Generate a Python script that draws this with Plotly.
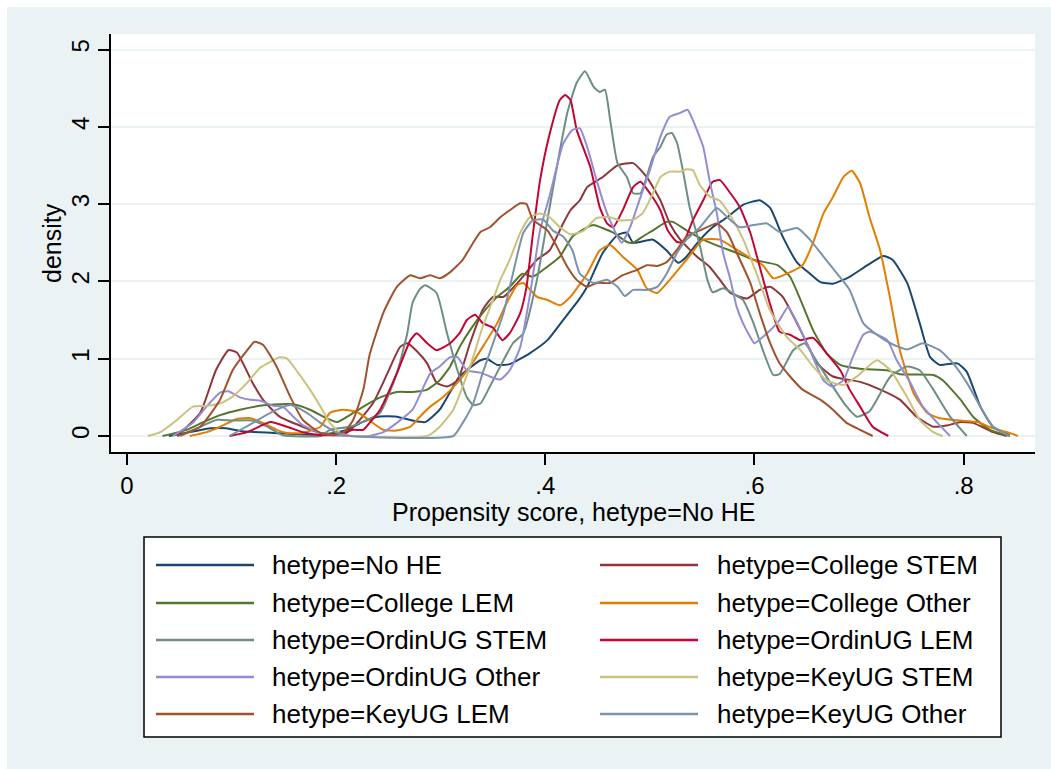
import plotly.graph_objects as go

# ---------------- data (x = propensity score, y = kernel density) ----------------
SERIES_NAMES = [
    "hetype=No HE", "hetype=College STEM", "hetype=College LEM", "hetype=College Other",
    "hetype=OrdinUG STEM", "hetype=OrdinUG LEM", "hetype=OrdinUG Other", "hetype=KeyUG STEM",
    "hetype=KeyUG LEM", "hetype=KeyUG Other",
]
SERIES_COLORS = ["#1a476f", "#90353b", "#55752f", "#e37e00", "#6e8e84",
                 "#c10534", "#938dd2", "#cac27e", "#a0522d", "#7b92a8"]

NO_HE = [(0.040,0),(0.060,0.05),(0.080,0.10),(0.095,0.10),(0.110,0.06),(0.140,0.04),(0.170,0.02),(0.190,0.02),(0.210,0.08),(0.225,0.18),(0.240,0.25),(0.258,0.25),(0.273,0.20),(0.285,0.18),(0.299,0.34),(0.318,0.77),(0.338,0.98),(0.344,1.00),(0.354,0.92),(0.366,0.93),(0.385,1.07),(0.402,1.24),(0.417,1.50),(0.433,1.78),(0.440,1.93),(0.455,2.37),(0.469,2.60),(0.478,2.63),(0.484,2.50),(0.503,2.54),(0.516,2.40),(0.527,2.24),(0.535,2.32),(0.548,2.54),(0.560,2.70),(0.574,2.83),(0.589,2.99),(0.605,3.05),(0.615,2.95),(0.627,2.58),(0.641,2.24),(0.653,2.10),(0.663,1.99),(0.675,1.97),(0.691,2.06),(0.708,2.21),(0.723,2.33),(0.732,2.28),(0.746,1.98),(0.758,1.46),(0.768,1.02),(0.777,0.92),(0.794,0.94),(0.803,0.83),(0.816,0.38),(0.828,0.12),(0.844,0.01)]

COLLEGE_STEM = [(0.048,0),(0.070,0.30),(0.085,0.85),(0.097,1.11),(0.105,1.08),(0.120,0.69),(0.130,0.47),(0.146,0.25),(0.168,0.12),(0.185,0.04),(0.210,0.04),(0.235,0.42),(0.249,0.81),(0.261,1.15),(0.268,1.20),(0.277,1.10),(0.287,0.94),(0.296,0.69),(0.306,0.64),(0.316,0.72),(0.328,1.20),(0.340,1.63),(0.350,1.80),(0.360,1.80),(0.376,2.02),(0.392,2.28),(0.404,2.40),(0.417,2.75),(0.424,2.92),(0.433,3.05),(0.440,3.22),(0.455,3.35),(0.469,3.50),(0.484,3.53),(0.497,3.35),(0.510,3.05),(0.519,2.75),(0.529,2.54),(0.545,2.32),(0.557,2.19),(0.567,2.02),(0.577,1.85),(0.593,1.78),(0.605,1.89),(0.615,1.93),(0.627,1.80),(0.644,1.37),(0.660,0.94),(0.675,0.77),(0.701,0.70),(0.717,0.62),(0.739,0.47),(0.755,0.25),(0.771,0.12),(0.785,0.14),(0.797,0.18),(0.809,0.17),(0.828,0.05),(0.841,0)]

COLLEGE_LEM = [(0.034,0),(0.057,0.08),(0.073,0.18),(0.089,0.27),(0.108,0.34),(0.127,0.39),(0.146,0.41),(0.159,0.41),(0.175,0.34),(0.191,0.23),(0.201,0.18),(0.213,0.27),(0.226,0.38),(0.242,0.50),(0.258,0.57),(0.273,0.57),(0.287,0.60),(0.299,0.72),(0.309,0.90),(0.318,1.15),(0.328,1.37),(0.340,1.59),(0.354,1.80),(0.366,1.93),(0.378,2.10),(0.388,2.06),(0.402,2.19),(0.414,2.32),(0.426,2.58),(0.440,2.70),(0.446,2.73),(0.465,2.63),(0.478,2.51),(0.484,2.50),(0.493,2.58),(0.503,2.66),(0.516,2.77),(0.522,2.77),(0.535,2.66),(0.551,2.54),(0.567,2.45),(0.583,2.37),(0.599,2.28),(0.622,2.21),(0.634,2.06),(0.644,1.76),(0.656,1.37),(0.669,1.07),(0.682,0.92),(0.701,0.87),(0.727,0.85),(0.739,0.80),(0.771,0.79),(0.780,0.72),(0.797,0.47),(0.809,0.25),(0.825,0.08),(0.844,0)]

COLLEGE_OTHER = [(0.060,0),(0.076,0.05),(0.089,0.12),(0.105,0.22),(0.118,0.23),(0.130,0.17),(0.143,0.08),(0.153,0.04),(0.168,0.04),(0.185,0.12),(0.194,0.30),(0.207,0.34),(0.220,0.31),(0.232,0.20),(0.245,0.08),(0.258,0.07),(0.271,0.12),(0.280,0.25),(0.290,0.38),(0.302,0.50),(0.316,0.69),(0.328,0.90),(0.340,1.15),(0.354,1.46),(0.363,1.72),(0.373,1.95),(0.379,1.98),(0.392,1.80),(0.402,1.76),(0.414,1.69),(0.424,1.80),(0.440,2.10),(0.452,2.40),(0.462,2.47),(0.474,2.32),(0.488,2.15),(0.497,1.91),(0.507,1.85),(0.519,2.02),(0.535,2.28),(0.551,2.54),(0.567,2.54),(0.583,2.41),(0.599,2.28),(0.608,2.21),(0.618,2.04),(0.631,2.10),(0.646,2.21),(0.656,2.50),(0.666,2.88),(0.675,3.09),(0.685,3.35),(0.693,3.43),(0.701,3.27),(0.710,2.83),(0.720,2.41),(0.730,1.76),(0.739,1.11),(0.752,0.56),(0.765,0.30),(0.777,0.23),(0.797,0.20),(0.813,0.18),(0.828,0.10),(0.844,0.04),(0.852,0)]

ORDINUG_STEM = [(0.051,0),(0.067,0.10),(0.086,0.21),(0.101,0.20),(0.120,0.20),(0.134,0.12),(0.149,0.01),(0.185,0),(0.194,0.08),(0.213,0.12),(0.228,0.20),(0.242,0.30),(0.258,0.81),(0.268,1.33),(0.273,1.72),(0.280,1.90),(0.285,1.95),(0.296,1.85),(0.306,1.33),(0.316,0.85),(0.325,0.50),(0.331,0.40),(0.338,0.42),(0.347,0.64),(0.360,0.98),(0.369,1.20),(0.379,1.33),(0.392,2.02),(0.404,2.95),(0.414,3.70),(0.421,4.18),(0.430,4.57),(0.438,4.72),(0.446,4.52),(0.452,4.45),(0.457,4.48),(0.462,4.09),(0.469,3.53),(0.478,3.35),(0.484,3.14),(0.491,3.14),(0.503,3.61),(0.510,3.74),(0.516,3.90),(0.521,3.92),(0.526,3.79),(0.532,3.40),(0.538,2.96),(0.548,2.45),(0.555,2.02),(0.560,1.86),(0.570,1.91),(0.579,1.85),(0.589,1.76),(0.599,1.46),(0.608,1.11),(0.618,0.79),(0.624,0.80),(0.637,1.11),(0.648,1.20),(0.658,1.00),(0.672,0.70),(0.687,0.40),(0.698,0.25),(0.710,0.32),(0.730,0.77),(0.746,0.90),(0.758,0.85),(0.771,0.60),(0.787,0.25),(0.803,0)]

ORDINUG_LEM = [(0.098,0),(0.115,0.05),(0.137,0.18),(0.153,0.12),(0.168,0.05),(0.185,0.01),(0.204,0.02),(0.216,0.08),(0.226,0.08),(0.232,0.17),(0.242,0.34),(0.258,0.81),(0.271,1.24),(0.277,1.33),(0.287,1.20),(0.296,1.11),(0.309,1.20),(0.318,1.33),(0.325,1.50),(0.333,1.57),(0.340,1.46),(0.350,1.40),(0.359,1.24),(0.366,1.33),(0.376,1.59),(0.382,1.93),(0.388,2.60),(0.395,3.31),(0.404,3.90),(0.414,4.35),(0.419,4.41),(0.424,4.35),(0.430,3.96),(0.443,3.48),(0.452,2.96),(0.459,2.75),(0.465,2.70),(0.474,2.92),(0.484,3.22),(0.491,3.29),(0.500,3.14),(0.510,2.92),(0.517,2.66),(0.526,2.51),(0.532,2.51),(0.541,2.79),(0.551,3.05),(0.560,3.29),(0.567,3.31),(0.577,3.14),(0.586,2.96),(0.596,2.63),(0.605,2.19),(0.615,1.70),(0.624,1.35),(0.634,1.31),(0.644,1.24),(0.656,1.27),(0.669,1.07),(0.682,0.85),(0.691,0.60),(0.701,0.38),(0.713,0.12),(0.728,0)]

ORDINUG_OTHER = [(0.044,0),(0.063,0.17),(0.076,0.38),(0.089,0.56),(0.097,0.58),(0.108,0.50),(0.118,0.47),(0.127,0.46),(0.140,0.39),(0.149,0.38),(0.159,0.25),(0.168,0.14),(0.185,0.04),(0.197,0.01),(0.213,0),(0.232,0),(0.245,0.05),(0.258,0.17),(0.273,0.34),(0.290,0.81),(0.299,0.90),(0.309,1.02),(0.316,1.02),(0.325,0.85),(0.338,0.82),(0.347,0.77),(0.357,0.73),(0.366,0.85),(0.376,1.15),(0.385,1.80),(0.395,2.66),(0.404,3.10),(0.417,3.78),(0.426,3.96),(0.433,3.98),(0.440,3.74),(0.449,3.31),(0.459,2.88),(0.469,2.58),(0.473,2.50),(0.481,2.70),(0.491,3.09),(0.500,3.44),(0.510,3.87),(0.519,4.13),(0.529,4.18),(0.536,4.22),(0.541,4.09),(0.551,3.74),(0.557,3.31),(0.564,2.88),(0.570,2.37),(0.577,2.02),(0.583,1.67),(0.589,1.46),(0.596,1.28),(0.600,1.20),(0.612,1.33),(0.624,1.50),(0.632,1.67),(0.641,1.46),(0.653,1.11),(0.666,0.72),(0.674,0.64),(0.685,0.72),(0.694,1.02),(0.704,1.31),(0.710,1.35),(0.727,1.24),(0.736,0.98),(0.749,0.69),(0.761,0.38),(0.775,0.17),(0.787,0)]

KEYUG_STEM = [(0.020,0),(0.032,0.05),(0.048,0.21),(0.063,0.38),(0.076,0.39),(0.089,0.42),(0.101,0.51),(0.115,0.69),(0.127,0.88),(0.137,0.96),(0.146,1.02),(0.153,1.00),(0.163,0.83),(0.175,0.60),(0.185,0.38),(0.194,0.17),(0.204,0.04),(0.216,0),(0.287,0),(0.299,0.12),(0.312,0.34),(0.321,0.64),(0.331,1.02),(0.340,1.41),(0.350,1.76),(0.357,2.02),(0.366,2.28),(0.376,2.63),(0.385,2.83),(0.395,2.88),(0.404,2.83),(0.414,2.70),(0.424,2.61),(0.436,2.65),(0.449,2.82),(0.462,2.83),(0.471,2.79),(0.484,2.80),(0.493,2.88),(0.503,3.14),(0.510,3.35),(0.519,3.42),(0.529,3.42),(0.535,3.45),(0.541,3.44),(0.548,3.24),(0.557,3.10),(0.567,3.04),(0.577,2.85),(0.589,2.55),(0.602,2.10),(0.615,1.62),(0.631,1.28),(0.644,1.11),(0.656,0.90),(0.669,0.72),(0.685,0.66),(0.698,0.77),(0.717,0.98),(0.730,0.85),(0.746,0.50),(0.758,0.21),(0.771,0.05),(0.780,0)]

KEYUG_LEM = [(0.048,0),(0.070,0.12),(0.089,0.47),(0.101,0.85),(0.115,1.11),(0.122,1.22),(0.130,1.18),(0.143,0.90),(0.156,0.51),(0.168,0.21),(0.185,0.04),(0.197,0.01),(0.208,0.06),(0.216,0.20),(0.226,0.60),(0.232,1.05),(0.245,1.59),(0.258,1.93),(0.271,2.08),(0.280,2.04),(0.290,2.08),(0.299,2.04),(0.309,2.12),(0.321,2.28),(0.331,2.50),(0.338,2.64),(0.347,2.70),(0.357,2.83),(0.366,2.92),(0.376,3.01),(0.382,3.00),(0.388,2.80),(0.402,2.66),(0.411,2.45),(0.421,2.19),(0.430,2.02),(0.440,1.93),(0.449,1.98),(0.462,1.98),(0.474,2.08),(0.488,2.15),(0.497,2.21),(0.507,2.20),(0.516,2.25),(0.526,2.41),(0.535,2.58),(0.548,2.66),(0.564,2.75),(0.574,2.63),(0.583,2.37),(0.596,1.98),(0.605,1.59),(0.615,1.20),(0.624,0.94),(0.634,0.77),(0.646,0.60),(0.663,0.47),(0.675,0.34),(0.688,0.17),(0.701,0.08),(0.713,0)]

KEYUG_OTHER = [(0.098,0),(0.118,0.15),(0.137,0.30),(0.156,0.40),(0.172,0.30),(0.185,0.17),(0.201,0.04),(0.213,0),(0.312,0),(0.321,0.17),(0.331,0.42),(0.340,0.81),(0.350,1.20),(0.360,1.59),(0.369,2.10),(0.379,2.63),(0.388,2.79),(0.398,2.80),(0.407,2.66),(0.417,2.58),(0.426,2.40),(0.433,2.10),(0.446,1.98),(0.459,2.02),(0.469,1.93),(0.476,1.81),(0.484,1.89),(0.497,1.89),(0.507,1.93),(0.516,2.10),(0.526,2.37),(0.535,2.54),(0.548,2.70),(0.564,2.95),(0.574,2.83),(0.586,2.70),(0.599,2.73),(0.612,2.75),(0.624,2.64),(0.641,2.69),(0.653,2.54),(0.666,2.32),(0.679,2.10),(0.691,1.89),(0.704,1.46),(0.717,1.31),(0.730,1.20),(0.746,1.12),(0.761,1.20),(0.777,1.11),(0.790,0.94),(0.803,0.69),(0.816,0.38),(0.828,0.12),(0.844,0)]

SERIES_DATA = [NO_HE, COLLEGE_STEM, COLLEGE_LEM, COLLEGE_OTHER, ORDINUG_STEM,
               ORDINUG_LEM, ORDINUG_OTHER, KEYUG_STEM, KEYUG_LEM, KEYUG_OTHER]

X_TICKS = [0, 0.2, 0.4, 0.6, 0.8]
X_TICK_LABELS = ["0", ".2", ".4", ".6", ".8"]
Y_TICKS = [0, 1, 2, 3, 4, 5]
X_TITLE = "Propensity score, hetype=No HE"
Y_TITLE = "density"

# ---------------- layout geometry (pixels) ----------------
W, H = 1051, 769
PL, PR, PT, PB = 111, 1035, 34, 452          # plot area edges
BG = "#EAF2F3"
FONT = "Liberation Sans, Arial, sans-serif"
FS = 26
TICK_FS = 24


def px_x(px):
    return (px - PL) / (PR - PL)


def px_y(py):
    return (PB - py) / (PB - PT)


fig = go.Figure()
for name, color, pts in zip(SERIES_NAMES, SERIES_COLORS, SERIES_DATA):
    xs = [p[0] for p in pts]
    ys = [p[1] for p in pts]
    fig.add_trace(go.Scatter(x=xs, y=ys, mode="lines", name=name,
                             line=dict(color=color, width=2, shape="spline", smoothing=0.5),
                             showlegend=False, hoverinfo="skip"))

shapes = [
    # graph region background
    dict(type="rect", xref="paper", yref="paper", x0=px_x(7), x1=px_x(W + 5),
         y0=px_y(H + 5), y1=px_y(7), fillcolor=BG, line=dict(width=0), layer="below"),
    # white plot region
    dict(type="rect", xref="paper", yref="paper", x0=0, x1=1, y0=0, y1=1,
         fillcolor="white", line=dict(width=0), layer="below"),
    # legend frame
    dict(type="rect", xref="paper", yref="paper", x0=px_x(144), x1=px_x(1001),
         y0=px_y(737), y1=px_y(537), fillcolor="white",
         line=dict(color="black", width=1.5), layer="above"),
]
annotations = [
    dict(text=X_TITLE, xref="paper", yref="paper", x=px_x(573), y=px_y(512),
         xanchor="center", yanchor="middle", showarrow=False,
         font=dict(family=FONT, size=FS - 1, color="black")),
    dict(text=Y_TITLE, xref="paper", yref="paper", x=px_x(52), y=px_y(243),
         xanchor="center", yanchor="middle", showarrow=False, textangle=-90,
         font=dict(family=FONT, size=FS - 1, color="black")),
]
row_y = [565, 603, 640, 677, 714]
col_line = [(156, 254), (600, 698)]
col_text = [270, 715]
for i, (name, color) in enumerate(zip(SERIES_NAMES, SERIES_COLORS)):
    r, c = divmod(i, 2)
    yy = px_y(row_y[r])
    shapes.append(dict(type="line", xref="paper", yref="paper",
                       x0=px_x(col_line[c][0]), x1=px_x(col_line[c][1]), y0=yy, y1=yy,
                       line=dict(color=color, width=2.5), layer="above"))
    annotations.append(dict(text=name, xref="paper", yref="paper", x=px_x(col_text[c]), y=yy,
                            xanchor="left", yanchor="middle", showarrow=False,
                            font=dict(family=FONT, size=FS, color="black")))

fig.update_layout(
    width=W, height=H,
    margin=dict(l=PL, r=W - PR, t=PT, b=H - PB, pad=0),
    paper_bgcolor="white", plot_bgcolor="white",
    font=dict(family=FONT, size=FS, color="black"),
    shapes=shapes, annotations=annotations,
    showlegend=False,
)
fig.update_xaxes(
    range=[(PL - 127) / 1045.8, (PR - 127) / 1045.8],
    tickvals=X_TICKS, ticktext=X_TICK_LABELS,
    showgrid=False, zeroline=False, showline=True, linecolor="black", linewidth=1.5,
    ticks="outside", ticklen=11, tickwidth=1.5, tickcolor="black",
    tickfont=dict(family=FONT, size=TICK_FS, color="black"),
    automargin=False,
)
fig.update_yaxes(
    range=[(436 - PB) / 77.3, (436 - PT) / 77.3],
    tickvals=Y_TICKS,
    showgrid=True, gridcolor=BG, gridwidth=2, zeroline=False,
    showline=True, linecolor="black", linewidth=1.5,
    ticks="outside", ticklen=11, tickwidth=1.5, tickcolor="black", tickangle=-90,
    tickfont=dict(family=FONT, size=TICK_FS, color="black"),
    automargin=False,
)

fig.write_html("out.html", config={"displayModeBar": False},
               post_script="document.body.style.margin='0px';")
